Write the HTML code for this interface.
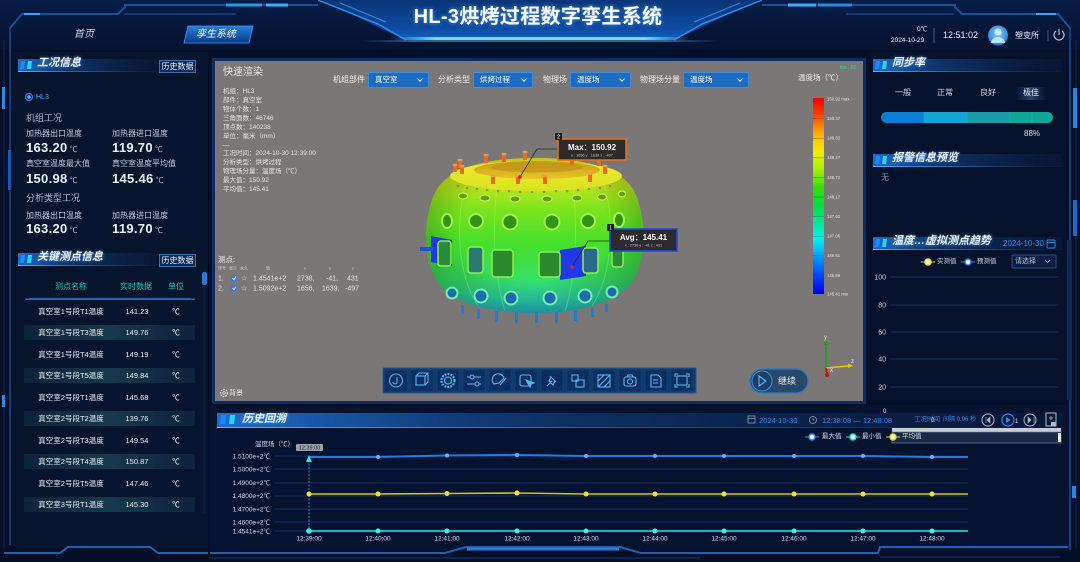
<!DOCTYPE html>
<html><head><meta charset="utf-8">
<style>
*{margin:0;padding:0;box-sizing:border-box}
html,body{width:1080px;height:562px;overflow:hidden;background:#050e27}
body{position:relative;font-family:"Liberation Sans","Noto Sans CJK SC",sans-serif;color:#d0dcec}
.a{position:absolute;white-space:nowrap;line-height:1}
svg{position:absolute;left:0;top:0}
.ht{font-size:11px;font-weight:bold;font-style:italic;color:#eef4ff;text-shadow:0 0 3px rgba(120,190,255,.6)}
.btn{position:absolute;border:1px solid #3d6eaa;background:#0b2a55;color:#e8f0ff;font-size:8px;text-align:center;line-height:11px}
.lb{font-size:8px;color:#b8c8de}
.sec{font-size:9px;color:#9fb6d2}
.v{font-size:13px;font-weight:bold;color:#eaf4ff;letter-spacing:.3px}
.v span{font-size:8px;font-weight:normal;color:#a8bcd4;margin-left:2px}
.tn{font-size:7.5px;color:#e6ecf4;text-align:center}
.th{font-size:8px;color:#1fc8b2;text-align:center}
.ifo{font-size:6.5px;color:#e4e4e4}
.dl{font-size:8px;color:#f0f0f0}
.dd{position:absolute;height:16px;background:#1d6cc2;border:1px solid #3b8ee2;border-radius:2px;color:#fff;font-size:7.5px;line-height:14px;padding-left:6px}
.dd:after{content:"";position:absolute;right:6px;top:4px;width:3px;height:3px;border-right:1px solid #dfe8f4;border-bottom:1px solid #dfe8f4;transform:rotate(45deg)}
</style></head><body>
<svg width="1080" height="562" viewBox="0 0 1080 562">
<defs>
<linearGradient id="topbg" x1="0" y1="0" x2="0" y2="1"><stop offset="0" stop-color="#071c46"/><stop offset="1" stop-color="#061230"/></linearGradient>
<linearGradient id="plate" x1="0" y1="0" x2="0" y2="1"><stop offset="0" stop-color="#0a3578"/><stop offset="0.7" stop-color="#0d4aa2"/><stop offset="1" stop-color="#1462c2"/></linearGradient>
<linearGradient id="glowline" x1="0" x2="1"><stop offset="0" stop-color="#3aa8ff" stop-opacity="0"/><stop offset="0.15" stop-color="#7ad6ff"/><stop offset="0.85" stop-color="#7ad6ff"/><stop offset="1" stop-color="#3aa8ff" stop-opacity="0"/></linearGradient>
<linearGradient id="hdr" x1="0" x2="1"><stop offset="0" stop-color="#1f72d6" stop-opacity="0.95"/><stop offset="0.35" stop-color="#144a92" stop-opacity="0.6"/><stop offset="1" stop-color="#0c2450" stop-opacity="0.25"/></linearGradient>
<linearGradient id="hdrl" x1="0" x2="1"><stop offset="0" stop-color="#58b4ff"/><stop offset="0.6" stop-color="#2a6ab8" stop-opacity="0.6"/><stop offset="1" stop-color="#1a3a70" stop-opacity="0.2"/></linearGradient>
<linearGradient id="rowbg" x1="0" x2="1"><stop offset="0" stop-color="#123246" stop-opacity="0.5"/><stop offset="0.5" stop-color="#163a4c"/><stop offset="1" stop-color="#123246" stop-opacity="0.5"/></linearGradient>
<linearGradient id="legend" x1="0" y1="0" x2="0" y2="1">
<stop offset="0" stop-color="#ff0000"/><stop offset="0.08" stop-color="#ff3a00"/><stop offset="0.15" stop-color="#ff8c00"/><stop offset="0.22" stop-color="#ffcc00"/><stop offset="0.28" stop-color="#f0f000"/><stop offset="0.36" stop-color="#a8f000"/><stop offset="0.46" stop-color="#30e000"/><stop offset="0.55" stop-color="#00e040"/><stop offset="0.64" stop-color="#00e8a0"/><stop offset="0.72" stop-color="#00f0f0"/><stop offset="0.8" stop-color="#00a8ff"/><stop offset="0.89" stop-color="#0050ff"/><stop offset="1" stop-color="#0000f0"/></linearGradient>
<linearGradient id="body" x1="0" y1="0" x2="0" y2="1">
<stop offset="0" stop-color="#e8e21c"/><stop offset="0.15" stop-color="#c8e81c"/><stop offset="0.33" stop-color="#7ce41e"/><stop offset="0.55" stop-color="#46e02a"/><stop offset="0.78" stop-color="#36e064"/><stop offset="0.9" stop-color="#2cd8a8"/><stop offset="1" stop-color="#24b8dc"/></linearGradient>
<radialGradient id="bshade" cx="0.5" cy="0.45" r="0.62"><stop offset="0.55" stop-color="#000" stop-opacity="0"/><stop offset="1" stop-color="#0a3a00" stop-opacity="0.35"/></radialGradient>
<linearGradient id="rim" x1="0" y1="0" x2="0" y2="1"><stop offset="0" stop-color="#f0e830"/><stop offset="1" stop-color="#d8e420"/></linearGradient>
<linearGradient id="hole" x1="0" y1="0" x2="0" y2="1"><stop offset="0" stop-color="#c89818"/><stop offset="1" stop-color="#e8c828"/></linearGradient>
<linearGradient id="btn2" x1="0" y1="0" x2="0" y2="1"><stop offset="0" stop-color="#2080e0"/><stop offset="1" stop-color="#0c3a86"/></linearGradient>
<linearGradient id="sel" x1="0" x2="1"><stop offset="0" stop-color="#2a4a78" stop-opacity="0"/><stop offset="0.5" stop-color="#3a5a8a" stop-opacity="0.7"/><stop offset="1" stop-color="#2a4a78" stop-opacity="0"/></linearGradient>
<clipPath id="barclip"><rect x="881" y="112" width="172" height="11" rx="5.5"/></clipPath>
<radialGradient id="av" cx="0.5" cy="0.4" r="0.6"><stop offset="0" stop-color="#8ad4ff"/><stop offset="1" stop-color="#1a78d8"/></radialGradient>
<radialGradient id="midglow" cx="0.5" cy="0.5" r="0.5"><stop offset="0" stop-color="#0c2a5e" stop-opacity="0.8"/><stop offset="1" stop-color="#061230" stop-opacity="0"/></radialGradient>
</defs>

<!-- background -->
<rect width="1080" height="562" fill="#050e27"/>
<rect x="0" y="0" width="1080" height="50" fill="url(#topbg)"/>
<ellipse cx="540" cy="230" rx="380" ry="220" fill="url(#midglow)"/>
<rect x="13" y="52" width="195" height="496" fill="#07142e"/>
<rect x="868" y="52" width="199" height="350" fill="#06122b"/>
<rect x="210" y="405" width="858" height="145" fill="#061330"/>

<!-- header decoration -->
<polygon points="322,0 758,0 704,26 674,40 406,40 376,26" fill="url(#plate)"/>
<polyline points="318,0 378,24 406,40" fill="none" stroke="#2c8ae8" stroke-width="1.5"/>
<polyline points="762,0 702,24 674,40" fill="none" stroke="#2c8ae8" stroke-width="1.5"/>
<polyline points="340,3 386,22" fill="none" stroke="#5ab8ff" stroke-width="1" opacity="0.6"/>
<polyline points="740,3 694,22" fill="none" stroke="#5ab8ff" stroke-width="1" opacity="0.6"/>
<rect x="390" y="37" width="300" height="3" fill="url(#glowline)"/>
<rect x="360" y="40" width="360" height="2" fill="url(#glowline)" opacity="0.4"/>
<line x1="124" y1="5" x2="318" y2="5" stroke="#17509a" stroke-width="2"/>
<line x1="226" y1="5" x2="262" y2="5" stroke="#2a9ae8" stroke-width="3"/>
<line x1="266" y1="5" x2="288" y2="5" stroke="#3ab0ff" stroke-width="3"/>
<polyline points="10,28 22,14 118,14 126,6" fill="none" stroke="#17509a" stroke-width="2"/>
<line x1="24" y1="14" x2="40" y2="14" stroke="#3aa8f0" stroke-width="2"/>
<line x1="124" y1="14" x2="236" y2="14" stroke="#0f3a78" stroke-width="2"/>
<line x1="762" y1="5" x2="956" y2="5" stroke="#17509a" stroke-width="2"/>
<line x1="788" y1="5" x2="816" y2="5" stroke="#3ab0ff" stroke-width="3"/>
<line x1="818" y1="5" x2="852" y2="5" stroke="#2a8ae0" stroke-width="3"/>
<polyline points="954,6 962,14 1058,14 1070,28" fill="none" stroke="#17509a" stroke-width="2"/>
<line x1="1036" y1="14" x2="1056" y2="14" stroke="#3aa8f0" stroke-width="2"/>
<line x1="846" y1="14" x2="954" y2="14" stroke="#0f3a78" stroke-width="2"/>

<!-- left frame -->
<polyline points="10,28 10,545" fill="none" stroke="#123e7a" stroke-width="2"/>
<line x1="4" y1="40" x2="4" y2="548" stroke="#0b2a58" stroke-width="1"/>
<rect x="2" y="87" width="3" height="22" fill="#2a8ae8"/>
<rect x="2" y="395" width="3" height="12" fill="#2a8ae8"/>
<rect x="8" y="150" width="3" height="40" fill="#1a5ab0"/>
<polyline points="4,553 60,553 68,547 150,547 158,553 208,553" fill="none" stroke="#1a62b8" stroke-width="2"/>
<!-- right frame -->
<line x1="1070" y1="28" x2="1070" y2="550" stroke="#123e7a" stroke-width="2"/>
<line x1="1076" y1="40" x2="1076" y2="548" stroke="#0b2a58" stroke-width="1"/>
<rect x="1073" y="88" width="4" height="40" fill="#2a84e0"/>
<rect x="1073" y="200" width="4" height="36" fill="#1a6ac8"/>
<rect x="1067" y="240" width="5" height="160" fill="#0e2c58"/>
<rect x="1072" y="486" width="4" height="12" fill="#2a84e0"/>

<!-- viewport -->
<rect x="212" y="58" width="654" height="346" fill="#0c2d62"/>
<rect x="215" y="61" width="648" height="340" fill="#7b7776"/>

<!-- 3D model -->
<path id="bd" d="M535,158 C585,158 625,168 636,195 C646,220 648,260 630,285 C610,305 575,313 535,313 C495,313 458,305 440,285 C422,262 423,220 434,195 C445,168 485,158 535,158 Z" fill="url(#body)"/>
<path d="M535,158 C585,158 625,168 636,195 C646,220 648,260 630,285 C610,305 575,313 535,313 C495,313 458,305 440,285 C422,262 423,220 434,195 C445,168 485,158 535,158 Z" fill="url(#bshade)"/>
<g fill="none" stroke="#d8ff80" stroke-width="1" opacity="0.25">
<path d="M470,170 C455,210 455,270 478,306"/><path d="M500,165 C492,210 492,270 505,311"/><path d="M570,165 C578,210 578,270 565,311"/><path d="M600,170 C615,210 615,270 592,306"/></g>
<ellipse cx="536" cy="176" rx="86" ry="15" fill="url(#rim)"/>
<ellipse cx="537" cy="170" rx="63" ry="9" fill="url(#hole)"/>
<ellipse cx="537" cy="167.5" rx="46" ry="5" fill="#b88a14" opacity="0.5"/>
<g fill="#b08a10">
<circle cx="458" cy="186" r="1.3"/><circle cx="467" cy="188" r="1.3"/><circle cx="477" cy="189" r="1.3"/><circle cx="487" cy="190" r="1.3"/><circle cx="498" cy="191" r="1.3"/><circle cx="509" cy="191" r="1.3"/><circle cx="520" cy="192" r="1.3"/><circle cx="532" cy="192" r="1.3"/><circle cx="544" cy="192" r="1.3"/><circle cx="556" cy="191" r="1.3"/><circle cx="567" cy="191" r="1.3"/><circle cx="578" cy="190" r="1.3"/><circle cx="589" cy="189" r="1.3"/><circle cx="600" cy="188" r="1.3"/><circle cx="610" cy="186" r="1.3"/></g>
<g fill="#5e9e16" stroke="#c8f040" stroke-width="1.2">
<ellipse cx="463" cy="196" rx="4.5" ry="3"/><ellipse cx="485" cy="198" rx="5" ry="3"/><ellipse cx="515" cy="199" rx="5" ry="3"/><ellipse cx="547" cy="199" rx="5" ry="3"/><ellipse cx="577" cy="198" rx="5" ry="3"/><ellipse cx="602" cy="197" rx="4.5" ry="3"/><ellipse cx="622" cy="194" rx="3.5" ry="3"/></g>
<g fill="#2e9418" stroke="#a8f048" stroke-width="2">
<ellipse cx="447" cy="221" rx="5" ry="7"/><circle cx="476" cy="221" r="7"/><circle cx="510" cy="222" r="7.5"/><circle cx="552" cy="222" r="7.5"/><circle cx="588" cy="221" r="7"/><ellipse cx="619" cy="220" rx="5" ry="7"/></g>
<polygon points="431,236 452,240 452,266 431,262" fill="#2038e8"/>
<polygon points="560,250 586,246 586,276 560,280" fill="#2038e8"/>
<rect x="420" y="247" width="13" height="4" fill="#2050d8"/>
<g stroke="#90f050" stroke-width="1.5">
<rect x="438" y="241" width="13" height="25" rx="3" fill="#2a8a38"/>
<rect x="468" y="247" width="15" height="26" rx="3" fill="#2a7a70"/>
<rect x="492" y="250" width="21" height="27" rx="3" fill="#2a8a30"/>
<rect x="539" y="252" width="21" height="25" rx="3" fill="#2a8a30"/>
<rect x="583" y="248" width="15" height="25" rx="3" fill="#2a6a88"/>
<rect x="612" y="242" width="11" height="25" rx="3" fill="#2a8a38"/></g>
<g fill="#1e6cb0" stroke="#70f0a8" stroke-width="2">
<circle cx="452" cy="293" r="5.5"/><circle cx="481" cy="296" r="6.5"/><circle cx="511" cy="298" r="6.5"/><circle cx="550" cy="298" r="6.5"/><circle cx="585" cy="296" r="6.5"/><circle cx="612" cy="292" r="5.5"/></g>
<g fill="#1a80d0">
<rect x="461" y="305" width="3" height="9"/><rect x="477" y="309" width="3" height="10"/><rect x="495" y="311" width="3" height="11"/><rect x="515" y="312" width="3" height="11"/><rect x="535" y="312" width="3" height="11"/><rect x="555" y="312" width="3" height="11"/><rect x="574" y="311" width="3" height="10"/><rect x="591" y="308" width="3" height="9"/><rect x="605" y="304" width="3" height="8"/></g>
<g fill="#e07020">
<rect x="458" y="160" width="4" height="8"/><rect x="460" y="166" width="4" height="8"/><rect x="453" y="165" width="4" height="7"/><rect x="484" y="155" width="4" height="8"/><rect x="502" y="154" width="4" height="8"/><rect x="523" y="152" width="4" height="8"/><rect x="491" y="176" width="4" height="8"/><rect x="516" y="176" width="4" height="8"/><rect x="543" y="176" width="4" height="8"/><rect x="588" y="174" width="4" height="8"/><rect x="597" y="158" width="4" height="8"/><rect x="603" y="166" width="4" height="8"/><rect x="570" y="158" width="4" height="7"/></g>
<g fill="#f29848">
<ellipse cx="460" cy="160" rx="2.6" ry="1.2"/><ellipse cx="462" cy="166" rx="2.6" ry="1.2"/><ellipse cx="455" cy="165" rx="2.6" ry="1.2"/><ellipse cx="486" cy="155" rx="2.6" ry="1.2"/><ellipse cx="504" cy="154" rx="2.6" ry="1.2"/><ellipse cx="525" cy="152" rx="2.6" ry="1.2"/><ellipse cx="493" cy="176" rx="2.6" ry="1.2"/><ellipse cx="518" cy="176" rx="2.6" ry="1.2"/><ellipse cx="545" cy="176" rx="2.6" ry="1.2"/><ellipse cx="590" cy="174" rx="2.6" ry="1.2"/><ellipse cx="599" cy="158" rx="2.6" ry="1.2"/><ellipse cx="605" cy="166" rx="2.6" ry="1.2"/></g>

<!-- leaders and labels -->
<polyline points="520,177 537,149 557,149" fill="none" stroke="#2a2a2a" stroke-width="0.8"/>
<circle cx="520" cy="177" r="1.8" fill="#e02020"/>
<polyline points="572,267 588,241 610,241" fill="none" stroke="#2a2a2a" stroke-width="0.8"/>
<circle cx="572" cy="267" r="1.8" fill="#e02020"/>
<rect x="558" y="139" width="68" height="21" fill="#2c2a2a" stroke="#f07010" stroke-width="1.5"/>
<rect x="555" y="133" width="7" height="7" fill="#1e1e1e" rx="1"/>
<text x="558.5" y="138.7" font-size="5" fill="#fff" text-anchor="middle" font-family="Liberation Sans">2</text>
<text x="592" y="150" font-size="8" font-weight="bold" fill="#fff" text-anchor="middle" font-family="Liberation Sans">Max：150.92</text>
<text x="592" y="156.5" font-size="3.8" fill="#c8c8c8" text-anchor="middle" font-family="Liberation Sans">x : 1656  y : 1639  z : -497</text>
<rect x="610" y="229" width="67" height="22" fill="#2c2a2e" stroke="#1a4cf0" stroke-width="1.5"/>
<rect x="607" y="224" width="7" height="7" fill="#1e1e1e" rx="1"/>
<text x="610.5" y="229.7" font-size="5" fill="#fff" text-anchor="middle" font-family="Liberation Sans">1</text>
<text x="643.5" y="240" font-size="8" font-weight="bold" fill="#fff" text-anchor="middle" font-family="Liberation Sans">Avg：145.41</text>
<text x="643.5" y="246.5" font-size="3.8" fill="#c8c8c8" text-anchor="middle" font-family="Liberation Sans">x : 2738  y : -41  z : 431</text>

<!-- color legend -->
<rect x="813" y="98" width="11" height="196" fill="url(#legend)"/>
<g stroke="#3a3a3a" stroke-width="0.5" opacity="0.7">
<line x1="813" y1="118.6" x2="824" y2="118.6"/><line x1="813" y1="138.2" x2="824" y2="138.2"/><line x1="813" y1="157.8" x2="824" y2="157.8"/><line x1="813" y1="177.4" x2="824" y2="177.4"/><line x1="813" y1="197" x2="824" y2="197"/><line x1="813" y1="216.6" x2="824" y2="216.6"/><line x1="813" y1="236.2" x2="824" y2="236.2"/><line x1="813" y1="255.8" x2="824" y2="255.8"/><line x1="813" y1="275.4" x2="824" y2="275.4"/></g>
<g font-size="4.3" fill="#e4e4e4" font-family="Liberation Sans">
<text x="827" y="100.5">150.92 max</text><text x="827" y="120">150.37</text><text x="827" y="139.6">149.82</text><text x="827" y="159.2">149.27</text><text x="827" y="178.8">148.72</text><text x="827" y="198.4">148.17</text><text x="827" y="218">147.62</text><text x="827" y="237.6">147.06</text><text x="827" y="257.2">146.51</text><text x="827" y="276.8">145.96</text><text x="827" y="295.5">145.41 min</text></g>
<text x="840" y="69" font-size="5" fill="#2ad0b0" font-family="Liberation Sans">fps : 60</text>

<!-- test point table -->
<g font-size="4" fill="#d0d0d0" font-family="Liberation Sans, Noto Sans CJK SC, sans-serif">
<text x="218" y="269.5">序号</text><text x="229" y="269.5">显示</text><text x="240" y="269.5">永久</text><text x="266" y="269.5">值</text><text x="304" y="269.5">x</text><text x="329" y="269.5">y</text><text x="352" y="269.5">z</text></g>
<rect x="231" y="275" width="6" height="6" fill="#3a7ae0" rx="1"/>
<rect x="231" y="285" width="6" height="6" fill="#3a7ae0" rx="1"/>
<polyline points="232.5,278 234,279.7 236,276.5" fill="none" stroke="#fff" stroke-width="0.8"/>
<polyline points="232.5,288 234,289.7 236,286.5" fill="none" stroke="#fff" stroke-width="0.8"/>
<g font-size="7" fill="#e4e4e4" font-family="Liberation Sans, DejaVu Sans, sans-serif">
<text x="218" y="280.5">1.</text><text x="241" y="280.5">☆</text><text x="253" y="280.5">1.4541e+2</text><text x="297" y="280.5">2738,</text><text x="326" y="280.5">-41,</text><text x="347" y="280.5">431</text>
<text x="218" y="290.5">2.</text><text x="241" y="290.5">☆</text><text x="253" y="290.5">1.5092e+2</text><text x="297" y="290.5">1656,</text><text x="322" y="290.5">1639,</text><text x="345" y="290.5">-497</text></g>

<!-- background gear -->
<circle cx="224" cy="393" r="3.5" fill="none" stroke="#e0e0e0" stroke-width="1.3" stroke-dasharray="1.6 1"/>
<circle cx="224" cy="393" r="1.3" fill="none" stroke="#e0e0e0" stroke-width="0.8"/>

<!-- toolbar -->
<rect x="383" y="368" width="313" height="25" fill="#0e3a6e" stroke="#1e5a98" stroke-width="1" rx="1"/>
<g fill="#0b2f5e" stroke="#16467e" stroke-width="0.5">
<rect x="385" y="370" width="22" height="21"/><rect x="411" y="370" width="22" height="21"/><rect x="437" y="370" width="22" height="21"/><rect x="463" y="370" width="22" height="21"/><rect x="489" y="370" width="22" height="21"/><rect x="515" y="370" width="22" height="21"/><rect x="541" y="370" width="22" height="21"/><rect x="567" y="370" width="22" height="21"/><rect x="593" y="370" width="22" height="21"/><rect x="619" y="370" width="22" height="21"/><rect x="645" y="370" width="22" height="21"/><rect x="671" y="370" width="22" height="21"/></g>
<g fill="none" stroke="#5ab4f4" stroke-width="1.1">
<circle cx="396" cy="380.5" r="6.5"/><path d="M397,377 v5 a2,2 0 0 1 -4,0"/>
<rect x="416" y="376" width="9" height="9"/><path d="M416,376 l3,-3 h9 v9 l-3,3 M425,376 l3,-3"/>
<circle cx="448" cy="380.5" r="6.5" stroke-width="2.2" stroke-dasharray="1.8 1.2"/><circle cx="448" cy="380.5" r="3.5"/>
<path d="M467,377 h14 M467,384 h14"/><circle cx="472" cy="377" r="2" fill="#0b2f5e"/><circle cx="477" cy="384" r="2" fill="#0b2f5e"/>
<path d="M494,384 a6,6 0 1 1 10,-6 l-5,5 z"/><path d="M500,385 l6,-7"/>
<rect x="520" y="375" width="11" height="11" rx="2"/><path d="M526,380 l4,7 1,-3 3,-1 z" fill="#5ab4f4"/>
<path d="M547,386 l5,-5 M550,376 l6,6 M551,377 l-2,4 4,4 2,-4"/>
<rect x="572" y="375" width="6" height="6"/><rect x="576" y="380" width="8" height="7"/>
<rect x="598" y="375" width="12" height="12"/><path d="M598,381 l6,-6 M598,387 l12,-12 M604,387 l6,-6"/>
<rect x="624" y="377" width="12" height="9" rx="2"/><circle cx="630" cy="381.5" r="2.5"/><path d="M627,377 l1,-2 h4 l1,2"/>
<path d="M651,375 h7 l3,3 v9 h-10 z M653,380 h5 M653,383 h5"/>
<path d="M675,377 v-3 h3 M686,374 h3 v3 M689,384 v3 h-3 M678,387 h-3 v-3"/><rect x="677" y="376" width="10" height="9"/></g>

<!-- continue button -->
<rect x="750" y="369" width="58" height="24" rx="12" fill="#2a4868" stroke="#2a7ad0" stroke-width="1.2"/>
<circle cx="762" cy="381" r="10" fill="#1e3e62" stroke="#3a92e6" stroke-width="1"/>
<path d="M759,376 l7,5 -7,5 z" fill="none" stroke="#6ab8ff" stroke-width="1.1"/>

<!-- gizmo -->
<line x1="826" y1="368" x2="826" y2="343" stroke="#1ea01e" stroke-width="1.6"/>
<path d="M823.5,345 l2.5,-5 2.5,5 z" fill="#1ea01e"/>
<line x1="826" y1="368" x2="849" y2="366" stroke="#e8c010" stroke-width="1.6"/>
<path d="M848,363.5 l5,2.3 -5,2.4 z" fill="#e8c010"/>
<line x1="826" y1="368" x2="827" y2="374" stroke="#c01818" stroke-width="2"/>
<circle cx="827" cy="375" r="2" fill="#c01818"/>
<g font-size="6" fill="#e8e8e8" font-family="Liberation Sans"><text x="824" y="339">y</text><text x="851" y="363">z</text><text x="830" y="372">x</text></g>

<!-- panel headers -->
<g>
<rect x="18" y="59" width="139" height="12" fill="url(#hdr)"/><rect x="18" y="71" width="139" height="1" fill="url(#hdrl)"/>
<rect x="18" y="253" width="139" height="12" fill="url(#hdr)"/><rect x="18" y="265" width="139" height="1" fill="url(#hdrl)"/>
<rect x="873" y="59" width="189" height="12" fill="url(#hdr)"/><rect x="873" y="71" width="189" height="1" fill="url(#hdrl)"/>
<rect x="873" y="154" width="189" height="12" fill="url(#hdr)"/><rect x="873" y="166" width="189" height="1" fill="url(#hdrl)"/>
<rect x="873" y="237" width="189" height="12" fill="url(#hdr)"/><rect x="873" y="249" width="189" height="1" fill="url(#hdrl)"/>
<rect x="217" y="413" width="845" height="14" fill="url(#hdr)"/><rect x="217" y="427" width="845" height="1" fill="url(#hdrl)"/>
</g>
<g>
<polygon points="21,61 25,61 24,69 20,69" fill="#1a8cff"/><polygon points="28,61 32,61 31,69 27,69" fill="#22d8f0"/>
<polygon points="21,255 25,255 24,263 20,263" fill="#1a8cff"/><polygon points="28,255 32,255 31,263 27,263" fill="#22d8f0"/>
<polygon points="876,61 880,61 879,69 875,69" fill="#1a8cff"/><polygon points="883,61 887,61 886,69 882,69" fill="#22d8f0"/>
<polygon points="876,156 880,156 879,164 875,164" fill="#1a8cff"/><polygon points="883,156 887,156 886,164 882,164" fill="#22d8f0"/>
<polygon points="876,239 880,239 879,247 875,247" fill="#1a8cff"/><polygon points="883,239 887,239 886,247 882,247" fill="#22d8f0"/>
<polygon points="221,415 226,415 225,424 220,424" fill="#1a8cff"/><polygon points="230,415 235,415 234,424 229,424" fill="#22d8f0"/>
</g>

<!-- HL3 radio -->
<circle cx="29" cy="97" r="3.5" fill="#0c2a5a" stroke="#2a8cff" stroke-width="1"/>
<circle cx="29" cy="97" r="1.8" fill="#4ab0ff"/>

<!-- table -->
<line x1="25" y1="299" x2="195" y2="299" stroke="#2a6ab0" stroke-width="1"/>
<polygon points="30,298 190,298 195,300 25,300" fill="#3a80c8" opacity="0.6"/>
<g fill="url(#rowbg)">
<rect x="24" y="325" width="171" height="15"/><rect x="24" y="368" width="171" height="15"/><rect x="24" y="411" width="171" height="15"/><rect x="24" y="454" width="171" height="15"/><rect x="24" y="497" width="171" height="15"/></g>
<rect x="203" y="270" width="3" height="243" fill="#0b1c3a"/>
<rect x="202" y="272" width="5" height="13" rx="2" fill="#2a7ad8"/>

<!-- right: sync bar -->
<rect x="1015" y="87" width="32" height="13" fill="url(#sel)"/>
<g clip-path="url(#barclip)">
<rect x="881" y="112" width="43" height="11" fill="#0b7ed6"/>
<rect x="924" y="112" width="43" height="11" fill="#10a6d6"/>
<rect x="967" y="112" width="43" height="11" fill="#189ea8"/>
<rect x="1010" y="112" width="43" height="11" fill="#0ea898"/>
</g>
<line x1="923.5" y1="112" x2="923.5" y2="123" stroke="#3a8ab0" stroke-width="0.5"/>
<line x1="967" y1="112" x2="967" y2="123" stroke="#3ab0c0" stroke-width="0.5"/>
<line x1="1010" y1="112" x2="1010" y2="123" stroke="#3ab0b0" stroke-width="0.5"/>
<line x1="1032" y1="112" x2="1032" y2="123" stroke="#60d0c0" stroke-width="0.5" stroke-dasharray="1 1"/>

<!-- right trend chart -->
<g stroke="#0f2e62" stroke-width="1">
<line x1="891" y1="277" x2="1059" y2="277"/><line x1="891" y1="305" x2="1059" y2="305"/><line x1="891" y1="332" x2="1059" y2="332"/><line x1="891" y1="359" x2="1059" y2="359"/><line x1="891" y1="387" x2="1059" y2="387"/></g>
<g font-size="7" fill="#c0ccdc" text-anchor="end" font-family="Liberation Sans">
<text x="886" y="279.5">100</text><text x="886" y="307.5">80</text><text x="886" y="334.5">60</text><text x="886" y="361.5">40</text><text x="886" y="389.5">20</text></g>
<line x1="921" y1="262" x2="935" y2="262" stroke="#d8d020" stroke-width="1"/>
<circle cx="928" cy="262" r="3" fill="#fff" stroke="#e8e020" stroke-width="1.5"/>
<line x1="961" y1="262" x2="975" y2="262" stroke="#2a7ae0" stroke-width="1"/>
<circle cx="968" cy="262" r="3" fill="#fff" stroke="#2a7ae0" stroke-width="1.5"/>
<rect x="1012" y="255" width="44" height="13" fill="#0a1e40" stroke="#24508a" stroke-width="1" rx="1"/>
<path d="M1045,260 l2.5,2.5 2.5,-2.5" fill="none" stroke="#9ab0cc" stroke-width="0.8"/>
<rect x="1047" y="240" width="8" height="8" fill="none" stroke="#2a8ae8" stroke-width="1" rx="1"/>
<line x1="1047" y1="242.5" x2="1055" y2="242.5" stroke="#2a8ae8" stroke-width="1"/>

<!-- header avatar / power -->
<line x1="934" y1="28" x2="934" y2="43" stroke="#34598a" stroke-width="1"/>
<circle cx="998" cy="35.5" r="10" fill="url(#av)"/>
<circle cx="998" cy="32" r="3.6" fill="#d8f0ff" opacity="0.85"/>
<path d="M991,43 a7,6 0 0 1 14,0 z" fill="#d8f0ff" opacity="0.85"/>
<line x1="1048" y1="30" x2="1048" y2="41" stroke="#34598a" stroke-width="1"/>
<path d="M1056,31 a5,5 0 1 0 6,0" fill="none" stroke="#c0c8d8" stroke-width="1.1"/>
<line x1="1059" y1="29" x2="1059" y2="35" stroke="#c0c8d8" stroke-width="1.1"/>
<polygon points="188,26 253,26 249,43 184,43" fill="url(#btn2)" stroke="#3a9cff" stroke-width="0.8"/>

<!-- bottom chart -->
<g stroke="#0e3266" stroke-width="1">
<line x1="275" y1="456" x2="968" y2="456"/><line x1="275" y1="469" x2="968" y2="469"/><line x1="275" y1="483" x2="968" y2="483"/><line x1="275" y1="496" x2="968" y2="496"/><line x1="275" y1="509" x2="968" y2="509"/><line x1="275" y1="522" x2="968" y2="522"/><line x1="275" y1="531" x2="968" y2="531"/></g>
<g font-size="6.5" fill="#c8d4e4" text-anchor="end" font-family="Liberation Sans, Noto Sans CJK SC, sans-serif">
<text x="270" y="458.3">1.5100e+2℃</text><text x="270" y="471.6">1.5000e+2℃</text><text x="270" y="485">1.4900e+2℃</text><text x="270" y="498">1.4800e+2℃</text><text x="270" y="511.6">1.4700e+2℃</text><text x="270" y="524.6">1.4600e+2℃</text><text x="270" y="533.5">1.4541e+2℃</text></g>
<text x="255" y="446" font-size="6.5" fill="#c8d4e4" font-family="Liberation Sans, Noto Sans CJK SC, sans-serif">温度场（℃）</text>
<g font-size="6.5" fill="#d0dae8" text-anchor="middle" font-family="Liberation Sans">
<text x="309" y="540.5">12:39:00</text><text x="378" y="540.5">12:40:00</text><text x="447" y="540.5">12:41:00</text><text x="517" y="540.5">12:42:00</text><text x="586" y="540.5">12:43:00</text><text x="655" y="540.5">12:44:00</text><text x="724" y="540.5">12:45:00</text><text x="794" y="540.5">12:46:00</text><text x="863" y="540.5">12:47:00</text><text x="932" y="540.5">12:48:00</text></g>
<line x1="309" y1="460" x2="309" y2="531" stroke="#20c0d0" stroke-width="0.8" stroke-dasharray="2 1.5"/>
<polyline points="309,457 378,457 447,455.5 517,455 586,456 655,456 724,456 794,456 863,456 932,457 968,457" fill="none" stroke="#1c7fe8" stroke-width="2"/>
<polyline points="309,494 378,494 447,493.5 517,493 586,494 655,494 724,494 794,494 863,494 932,494 968,494" fill="none" stroke="#cfc41e" stroke-width="1.6"/>
<polyline points="309,531 968,531" fill="none" stroke="#14b4c0" stroke-width="2"/>
<g fill="#5ab8ff"><circle cx="378" cy="457" r="2"/><circle cx="447" cy="455.5" r="2"/><circle cx="517" cy="455" r="2"/><circle cx="586" cy="456" r="2"/><circle cx="655" cy="456" r="2"/><circle cx="724" cy="456" r="2"/><circle cx="794" cy="456" r="2"/><circle cx="863" cy="456" r="2"/><circle cx="932" cy="457" r="2"/></g>
<g fill="#f0e43a"><circle cx="309" cy="494" r="2.5"/><circle cx="378" cy="494" r="2.5"/><circle cx="447" cy="493.5" r="2.5"/><circle cx="517" cy="493" r="2.5"/><circle cx="586" cy="494" r="2.5"/><circle cx="655" cy="494" r="2.5"/><circle cx="724" cy="494" r="2.5"/><circle cx="794" cy="494" r="2.5"/><circle cx="863" cy="494" r="2.5"/><circle cx="932" cy="494" r="2.5"/></g>
<g fill="#38f0f0"><circle cx="309" cy="531" r="2.8"/><circle cx="378" cy="531" r="2.5"/><circle cx="447" cy="531" r="2.5"/><circle cx="517" cy="531" r="2.5"/><circle cx="586" cy="531" r="2.5"/><circle cx="655" cy="531" r="2.5"/><circle cx="724" cy="531" r="2.5"/><circle cx="794" cy="531" r="2.5"/><circle cx="863" cy="531" r="2.5"/><circle cx="932" cy="531" r="2.5"/></g>
<path d="M306,462 l3,-7 3,7 z" fill="#30e0f0"/>
<rect x="296" y="444" width="27" height="7" fill="#9aa0a8" rx="1"/>
<text x="309.5" y="449.7" font-size="5.5" fill="#2a2a2a" text-anchor="middle" font-family="Liberation Sans">12:39:00</text>

<!-- legend bottom -->
<line x1="805" y1="437" x2="819" y2="437" stroke="#2a8aff" stroke-width="1"/><circle cx="812" cy="437" r="3" fill="#fff" stroke="#2a8aff" stroke-width="1.5"/>
<line x1="846" y1="437" x2="860" y2="437" stroke="#20d8e0" stroke-width="1"/><circle cx="853" cy="437" r="3" fill="#fff" stroke="#20d8e0" stroke-width="1.5"/>
<rect x="892" y="428" width="169" height="4" fill="#c8ccd4"/>
<rect x="892" y="432" width="169" height="11" fill="#1a2a4a" stroke="#7a8aa4" stroke-width="0.6"/>
<rect x="1058" y="433" width="3" height="9" fill="#e8e8e8"/>
<line x1="886" y1="437" x2="900" y2="437" stroke="#e0d020" stroke-width="1"/><circle cx="893" cy="437" r="3" fill="#fff" stroke="#e0d020" stroke-width="1.5"/>
<!-- controls -->
<rect x="748" y="416" width="7" height="7" fill="none" stroke="#8a9ab4" stroke-width="0.8"/>
<line x1="748" y1="418.5" x2="755" y2="418.5" stroke="#8a9ab4" stroke-width="0.8"/>
<circle cx="813" cy="420" r="3.5" fill="none" stroke="#8a9ab4" stroke-width="0.8"/>
<path d="M813,418 v2 h1.5" fill="none" stroke="#8a9ab4" stroke-width="0.7"/>
<circle cx="988" cy="420" r="6" fill="none" stroke="#b0bccc" stroke-width="1"/>
<path d="M986,417 v6 M990,417 l-3,3 3,3 z" fill="#b0bccc" stroke="#b0bccc" stroke-width="0.6"/>
<circle cx="1008" cy="420" r="6" fill="none" stroke="#2a8ae8" stroke-width="1.2"/>
<path d="M1006,417 l5,3 -5,3 z" fill="#2a8ae8"/>
<circle cx="1030" cy="420" r="6" fill="none" stroke="#b0bccc" stroke-width="1"/>
<path d="M1034,417 v6 M1028,417 l3,3 -3,3 z" fill="#b0bccc" stroke="#b0bccc" stroke-width="0.6"/>
<rect x="1046" y="413" width="10" height="13" fill="none" stroke="#b0bccc" stroke-width="1"/>
<rect x="1051" y="422" width="5" height="4" fill="#b0bccc"/>
<path d="M1049,418 h4 M1051,416 v4" stroke="#b0bccc" stroke-width="0.8"/>

<!-- bottom frame -->
<polyline points="210,553 445,553 466,547 620,547 641,553 878,553 880,547 1068,547" fill="none" stroke="#1a62b8" stroke-width="2"/>
<polyline points="467,549 619,549" stroke="#2a7ad8" stroke-width="3"/>
<line x1="880" y1="557" x2="1060" y2="557" stroke="#0f3a78" stroke-width="1"/>
<line x1="210" y1="558" x2="700" y2="558" stroke="#0f3a78" stroke-width="1"/>
</svg>

<!-- header texts -->
<div class="a" style="left:338px;top:7px;width:400px;text-align:center;font-size:20px;font-weight:bold;color:#fff;letter-spacing:0.3px;text-shadow:0 0 4px rgba(110,190,255,.7)">HL-3烘烤过程数字孪生系统</div>
<div class="a" style="left:74px;top:30px;font-size:10px;font-style:italic;color:#c8d4e8">首页</div>
<div class="a" style="left:196px;top:29.5px;font-size:10px;font-style:italic;color:#fff">孪生系统</div>
<div class="a" style="left:917px;top:27px;font-size:6.5px;color:#e8eef8">0℃</div>
<div class="a" style="left:891px;top:37.5px;font-size:6.5px;color:#e8eef8">2024-10-29</div>
<div class="a" style="left:943px;top:31px;font-size:9px;color:#e8eef8">12:51:02</div>
<div class="a" style="left:1015px;top:31.5px;font-size:8px;color:#e8eef8">塑变所</div>

<!-- left panel -->
<div class="a ht" style="left:37px;top:58px">工况信息</div>
<div class="btn" style="left:159px;top:60px;width:37px;height:13px">历史数据</div>
<div class="a" style="left:36px;top:93.5px;font-size:7px;color:#4aa6ff">HL3</div>
<div class="a sec" style="left:26px;top:113.5px">机组工况</div>
<div class="a lb" style="left:26px;top:130px">加热器出口温度</div>
<div class="a lb" style="left:112px;top:130px">加热器进口温度</div>
<div class="a v" style="left:26px;top:140.5px">163.20<span>℃</span></div>
<div class="a v" style="left:112px;top:140.5px">119.70<span>℃</span></div>
<div class="a lb" style="left:26px;top:160px">真空室温度最大值</div>
<div class="a lb" style="left:112px;top:160px">真空室温度平均值</div>
<div class="a v" style="left:26px;top:171.5px">150.98<span>℃</span></div>
<div class="a v" style="left:112px;top:171.5px">145.46<span>℃</span></div>
<div class="a sec" style="left:26px;top:193.5px">分析类型工况</div>
<div class="a lb" style="left:26px;top:212px">加热器出口温度</div>
<div class="a lb" style="left:112px;top:212px">加热器进口温度</div>
<div class="a v" style="left:26px;top:221.5px">163.20<span>℃</span></div>
<div class="a v" style="left:112px;top:221.5px">119.70<span>℃</span></div>

<div class="a ht" style="left:37px;top:252px">关键测点信息</div>
<div class="btn" style="left:159px;top:254px;width:37px;height:13px">历史数据</div>
<div class="a th" style="left:31px;top:283px;width:80px">测点名称</div>
<div class="a th" style="left:116px;top:283px;width:40px">实时数据</div>
<div class="a th" style="left:161px;top:283px;width:30px">单位</div>

<div class="a tn" style="left:31px;top:307.5px;width:80px">真空室1号段T1温度</div><div class="a tn" style="left:117px;top:307.5px;width:40px">141.23</div><div class="a tn" style="left:166px;top:307.5px;width:20px">℃</div>
<div class="a tn" style="left:31px;top:328.5px;width:80px">真空室1号段T3温度</div><div class="a tn" style="left:117px;top:328.5px;width:40px">149.76</div><div class="a tn" style="left:166px;top:328.5px;width:20px">℃</div>
<div class="a tn" style="left:31px;top:350.5px;width:80px">真空室1号段T4温度</div><div class="a tn" style="left:117px;top:350.5px;width:40px">149.19</div><div class="a tn" style="left:166px;top:350.5px;width:20px">℃</div>
<div class="a tn" style="left:31px;top:372px;width:80px">真空室1号段T5温度</div><div class="a tn" style="left:117px;top:372px;width:40px">149.84</div><div class="a tn" style="left:166px;top:372px;width:20px">℃</div>
<div class="a tn" style="left:31px;top:393.5px;width:80px">真空室2号段T1温度</div><div class="a tn" style="left:117px;top:393.5px;width:40px">145.68</div><div class="a tn" style="left:166px;top:393.5px;width:20px">℃</div>
<div class="a tn" style="left:31px;top:414.5px;width:80px">真空室2号段T2温度</div><div class="a tn" style="left:117px;top:414.5px;width:40px">139.76</div><div class="a tn" style="left:166px;top:414.5px;width:20px">℃</div>
<div class="a tn" style="left:31px;top:436.5px;width:80px">真空室2号段T3温度</div><div class="a tn" style="left:117px;top:436.5px;width:40px">149.54</div><div class="a tn" style="left:166px;top:436.5px;width:20px">℃</div>
<div class="a tn" style="left:31px;top:457.5px;width:80px">真空室2号段T4温度</div><div class="a tn" style="left:117px;top:457.5px;width:40px">150.87</div><div class="a tn" style="left:166px;top:457.5px;width:20px">℃</div>
<div class="a tn" style="left:31px;top:479.5px;width:80px">真空室2号段T5温度</div><div class="a tn" style="left:117px;top:479.5px;width:40px">147.46</div><div class="a tn" style="left:166px;top:479.5px;width:20px">℃</div>
<div class="a tn" style="left:31px;top:501px;width:80px">真空室3号段T1温度</div><div class="a tn" style="left:117px;top:501px;width:40px">145.30</div><div class="a tn" style="left:166px;top:501px;width:20px">℃</div>

<!-- viewport texts -->
<div class="a" style="left:223px;top:68px;font-size:10px;color:#e6e6e6">快速渲染</div>
<div class="a ifo" style="left:223px;top:88.8px">机组：HL3</div>
<div class="a ifo" style="left:223px;top:97.8px">部件：真空室</div>
<div class="a ifo" style="left:223px;top:106.8px">物体个数：1</div>
<div class="a ifo" style="left:223px;top:115.8px">三角面数：46746</div>
<div class="a ifo" style="left:223px;top:124.8px">顶点数：140238</div>
<div class="a ifo" style="left:223px;top:133.8px">单位：毫米（mm）</div>
<div class="a ifo" style="left:223px;top:142.8px">—</div>
<div class="a ifo" style="left:223px;top:150.8px">工况时间：2024-10-30 12:39:00</div>
<div class="a ifo" style="left:223px;top:159.8px">分析类型：烘烤过程</div>
<div class="a ifo" style="left:223px;top:168.8px">物理场分量：温度场（℃）</div>
<div class="a ifo" style="left:223px;top:177.8px">最大值：150.92</div>
<div class="a ifo" style="left:223px;top:186.8px">平均值：145.41</div>
<div class="a" style="left:218px;top:256px;font-size:7.5px;color:#ececec">测点:</div>
<div class="a" style="left:229px;top:389.5px;font-size:7px;color:#ececec">背景</div>

<div class="a dl" style="left:333px;top:76px">机组部件</div>
<div class="dd" style="left:368px;top:72px;width:61px">真空室</div>
<div class="a dl" style="left:438px;top:76px">分析类型</div>
<div class="dd" style="left:473px;top:72px;width:60px">烘烤过程</div>
<div class="a dl" style="left:543px;top:76px">物理场</div>
<div class="dd" style="left:570px;top:72px;width:61px">温度场</div>
<div class="a dl" style="left:640px;top:76px">物理场分量</div>
<div class="dd" style="left:683px;top:72px;width:66px">温度场</div>
<div class="a" style="left:798px;top:74px;font-size:7.5px;color:#eeeeee">温度场（℃）</div>
<div class="a" style="left:778px;top:376.5px;font-size:9px;color:#e8eef8">继续</div>

<!-- right panel -->
<div class="a ht" style="left:892px;top:58px">同步率</div>
<div class="a" style="left:895px;top:89px;font-size:8px;color:#d0dae8">一般</div>
<div class="a" style="left:937px;top:89px;font-size:8px;color:#d0dae8">正常</div>
<div class="a" style="left:980px;top:89px;font-size:8px;color:#d0dae8">良好</div>
<div class="a" style="left:1023px;top:89px;font-size:8px;color:#e8eef8">极佳</div>
<div class="a" style="left:1024px;top:130px;font-size:8px;color:#d8e2ee">88%</div>
<div class="a ht" style="left:892px;top:153px">报警信息预览</div>
<div class="a" style="left:881px;top:174px;font-size:8px;color:#7888a0">无</div>
<div class="a ht" style="left:892px;top:236px">温度…虚拟测点趋势</div>
<div class="a" style="left:1003px;top:240px;font-size:8px;color:#2a8ae8">2024-10-30</div>
<div class="a" style="left:937px;top:258.5px;font-size:6.5px;color:#c8d4e4">实测值</div>
<div class="a" style="left:977px;top:258.5px;font-size:6.5px;color:#c8d4e4">预测值</div>
<div class="a" style="left:1015px;top:258px;font-size:7px;color:#b0c0d4">请选择</div>

<!-- bottom panel texts -->
<div class="a ht" style="left:242px;top:413.5px">历史回溯</div>
<div class="a" style="left:759px;top:416.5px;font-size:7.5px;color:#2a8ae8">2024-10-30</div>
<div class="a" style="left:822px;top:416.5px;font-size:7.5px;color:#2a8ae8">12:38:08 — 12:48:08</div>
<div class="a" style="left:914px;top:416.5px;font-size:6.5px;color:#2a8ae8">工况时间</div>
<div class="a" style="left:943px;top:417px;font-size:6px;color:#2a8ae8">间隔 0.96 秒</div>
<div class="a" style="left:883px;top:409px;font-size:6px;color:#e0e0e0">0</div>
<div class="a" style="left:931px;top:418px;font-size:6px;color:#e0e0e0">0</div>
<div class="a" style="left:1015px;top:419px;font-size:6px;color:#e0e0e0">1</div>
<div class="a" style="left:822px;top:434px;font-size:6.5px;color:#d0dae8">最大值</div>
<div class="a" style="left:862px;top:434px;font-size:6.5px;color:#d0dae8">最小值</div>
<div class="a" style="left:902px;top:434px;font-size:6.5px;color:#d0dae8">平均值</div>
</body></html>
